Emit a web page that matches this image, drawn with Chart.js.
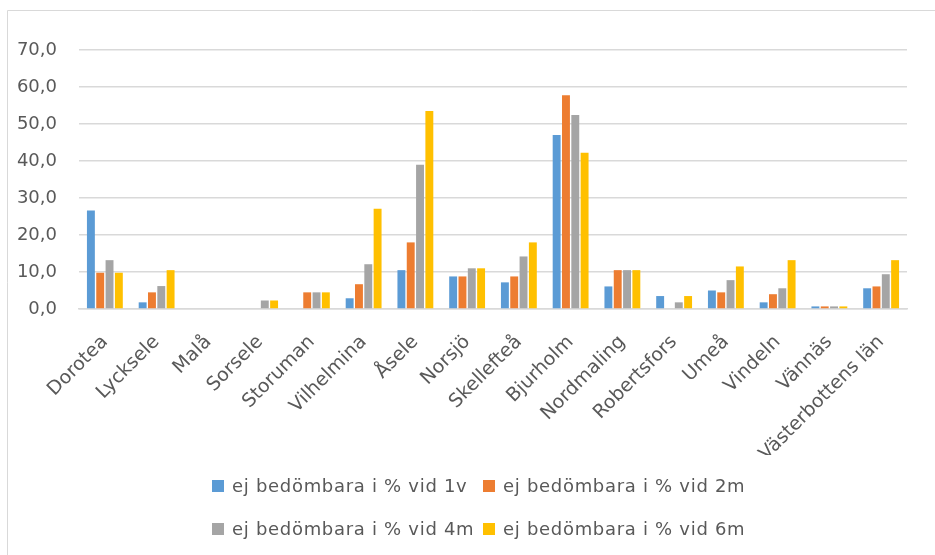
<!DOCTYPE html>
<html lang="sv">
<head>
<meta charset="utf-8">
<script src="https://cdn.jsdelivr.net/npm/chart.js@4.4.1/dist/chart.umd.min.js"></script>
<style>
html, body { margin: 0; padding: 0; background: #fff; overflow: hidden; }
#chart { display: block; }
</style>
</head>
<body>
<canvas id="chart" width="935" height="555"></canvas>
<script>
// kommuner along the x axis
const kommuner = ['Dorotea', 'Lycksele', 'Malå', 'Sorsele', 'Storuman', 'Vilhelmina', 'Åsele', 'Norsjö',
    'Skellefteå', 'Bjurholm', 'Nordmaling', 'Robertsfors', 'Umeå', 'Vindeln', 'Vännäs', 'Västerbottens län'];

// share not assessable (%) at each check-up
const vid1v = [26.6, 1.8, null, null, null, 2.9, 10.5, 8.8, 7.2, 47.0, 6.1, 3.5, 5.0, 1.8, 0.7, 5.6];
const vid2m = [9.8, 4.5, null, null, 4.5, 6.7, 18.0, 8.8, 8.8, 57.8, 10.5, null, 4.5, 4.0, 0.7, 6.1];
const vid4m = [13.2, 6.2, null, 2.3, 4.5, 12.1, 39.0, 11.0, 14.2, 52.4, 10.5, 1.8, 7.8, 5.6, 0.7, 9.4];
const vid6m = [9.8, 10.5, null, 2.3, 4.5, 27.1, 53.5, 11.0, 18.0, 42.2, 10.5, 3.5, 11.5, 13.2, 0.7, 13.2];

const serieNamn = ['ej bedömbara i % vid 1v', 'ej bedömbara i % vid 2m', 'ej bedömbara i % vid 4m', 'ej bedömbara i % vid 6m'];
const yMax = 70;
const yStep = 10;

const textColor = '#595959';
const gridColor = '#d9d9d9';
const colors = ['#5b9bd5', '#ed7d31', '#a5a5a5', '#ffc000'];
const fontFamily = '"DejaVu Sans", sans-serif';

// thin frame line along the left and top of the chart box
const chartFrame = {
    id: 'chartFrame',
    beforeDraw(chart) {
        const ctx = chart.ctx;
        ctx.save();
        ctx.strokeStyle = gridColor;
        ctx.lineWidth = 1;
        ctx.beginPath();
        ctx.moveTo(7.5, chart.height);
        ctx.lineTo(7.5, 10.5);
        ctx.lineTo(chart.width, 10.5);
        ctx.stroke();
        ctx.restore();
    }
};

// legend in two columns / two rows, like the office chart
const legendGrid = {
    id: 'legendGrid',
    afterDraw(chart) {
        const ctx = chart.ctx;
        const rows = [486, 529];
        const colStart = 212;
        const colWidth = 271;
        ctx.save();
        ctx.font = `18px ${fontFamily}`;
        ctx.letterSpacing = '0.7px';
        ctx.textBaseline = 'middle';
        ctx.textAlign = 'left';
        chart.data.datasets.forEach((ds, i) => {
            const x = colStart + (i % 2) * colWidth;
            const y = rows[Math.floor(i / 2)];
            ctx.fillStyle = ds.backgroundColor;
            ctx.fillRect(x, y - 6, 12, 12);
            ctx.fillStyle = textColor;
            ctx.fillText(ds.label, x + 20, y + 1);
        });
        ctx.restore();
    }
};

const datasets = [vid1v, vid2m, vid4m, vid6m].map((values, i) => ({
    label: serieNamn[i],
    data: values,
    backgroundColor: colors[i],
    borderWidth: 0,
    categoryPercentage: 0.72,
    barPercentage: 0.85
}));

new Chart(document.getElementById('chart'), {
    type: 'bar',
    data: { labels: kommuner, datasets: datasets },
    options: {
        responsive: false,
        animation: false,
        events: [],
        layout: { padding: { left: 12, right: 28, top: 50, bottom: 100 } },
        plugins: {
            legend: { display: false },
            tooltip: { enabled: false }
        },
        scales: {
            x: {
                grid: { display: false },
                border: { color: gridColor, width: 1.5 },
                ticks: {
                    color: textColor,
                    font: { family: fontFamily, size: 19 },
                    minRotation: 45,
                    maxRotation: 45,
                    autoSkip: false,
                    padding: 14
                },
                afterFit: (scale) => { scale.height = 146; }
            },
            y: {
                min: 0,
                max: yMax,
                grid: { color: gridColor, lineWidth: 1.5, drawTicks: false },
                border: { display: false },
                ticks: {
                    stepSize: yStep,
                    color: textColor,
                    font: { family: fontFamily, size: 18 },
                    padding: 22,
                    callback: (v) => v.toFixed(1).replace('.', ',')
                },
                afterFit: (scale) => { scale.width = 67; }
            }
        }
    },
    plugins: [chartFrame, legendGrid]
});
</script>
</body>
</html>
